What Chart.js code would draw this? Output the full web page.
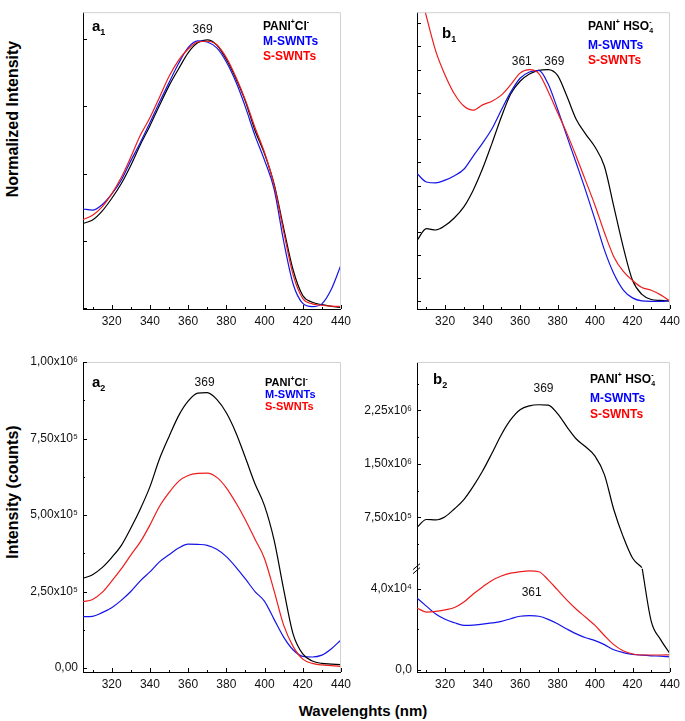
<!DOCTYPE html>
<html lang="en">
<head>
    <meta charset="UTF-8">
    <title>PANI emission spectra</title>
    <script src="https://cdn.jsdelivr.net/npm/chart.js"></script>
    <style>
        body {
            margin: 0;
            background: #fff;
            font-family: Arial, "Liberation Sans", sans-serif;
        }
        #fig {
            position: relative;
            width: 685px;
            height: 721px;
            overflow: hidden;
        }
        #fig canvas {
            position: absolute;
        }
        .title {
            position: absolute;
            width: 220px;
            height: 20px;
            line-height: 20px;
            text-align: center;
            font-weight: bold;
            font-size: 16px;
            color: #000;
            white-space: nowrap;
        }
        .rot {
            transform: rotate(-90deg); /* vertical axis titles */
        }
    </style>
</head>
<body>
<div id="fig">
    <div class="title rot" style="left:-97px; top:109px;">Normalized Intensity</div>
    <div class="title rot" style="left:-97px; top:482px;">Intensity (counts)</div>
    <div class="title" style="left:253px; top:701px; font-size:15px;">Wavelenghts (nm)</div>

    <canvas id="a1" width="356" height="336" style="left:0; top:0;"></canvas>
    <canvas id="b1" width="339" height="336" style="left:346px; top:0;"></canvas>
    <canvas id="a2" width="356" height="385" style="left:0; top:336px;"></canvas>
    <canvas id="b2" width="339" height="385" style="left:346px; top:336px;"></canvas>
</div>

<script>
    // wavelength grid (nm), shared by all panels
    const wavelengths = [305, 310, 315, 320, 325, 330, 335, 340, 345, 350, 355, 360, 365, 370,
                         375, 380, 385, 390, 395, 400, 405, 410, 415, 420, 425, 430, 435, 440];

    // a1 - normalized, PANI+Cl-
    const a1Pani  = [0.314, 0.327, 0.360, 0.407, 0.462, 0.530, 0.607, 0.677, 0.753, 0.826, 0.889, 0.949, 0.986, 0.997,
                     0.978, 0.925, 0.853, 0.768, 0.660, 0.573, 0.461, 0.297, 0.140, 0.046, 0.021, 0.012, 0.006, 0.002];
    const a1Metal = [0.368, 0.364, 0.384, 0.423, 0.475, 0.547, 0.615, 0.689, 0.765, 0.838, 0.909, 0.968, 0.993, 0.989,
                     0.967, 0.915, 0.841, 0.747, 0.641, 0.549, 0.442, 0.248, 0.088, 0.017, 0.005, 0.015, 0.070, 0.160];
    const a1Semi  = [0.329, 0.345, 0.376, 0.424, 0.485, 0.561, 0.642, 0.707, 0.783, 0.861, 0.921, 0.963, 0.989, 0.992,
                     0.979, 0.931, 0.859, 0.773, 0.671, 0.578, 0.457, 0.284, 0.122, 0.035, 0.015, 0.010, 0.007, 0.005];

    // b1 - normalized, PANI+HSO4-
    const b1Pani  = [0.263, 0.314, 0.308, 0.327, 0.361, 0.408, 0.480, 0.573, 0.682, 0.796, 0.895, 0.950, 0.981, 0.997,
                     1.000, 0.975, 0.885, 0.785, 0.722, 0.666, 0.583, 0.410, 0.236, 0.091, 0.030, 0.008, 0.004, 0.001];
    const b1Metal = [0.552, 0.515, 0.511, 0.523, 0.542, 0.570, 0.627, 0.683, 0.745, 0.826, 0.903, 0.963, 0.990, 0.997,
                     0.938, 0.830, 0.712, 0.596, 0.478, 0.353, 0.222, 0.120, 0.050, 0.015, 0.002, 0.000, 0.000, 0.004];
    const b1Semi  = [1.400, 1.230, 1.080, 0.976, 0.895, 0.843, 0.825, 0.848, 0.864, 0.890, 0.935, 0.985, 1.000, 0.983,
                     0.906, 0.815, 0.725, 0.625, 0.520, 0.414, 0.297, 0.193, 0.130, 0.090, 0.060, 0.048, 0.028, 0.001];

    // a2 - counts, PANI+Cl-
    const a2Pani  = [293000, 305000, 328000, 361000, 400000, 457000, 520000, 592000, 683000, 756000, 824000, 872000, 898000, 900000,
                     878000, 834000, 769000, 687000, 602000, 530000, 418000, 257000, 110000, 46000, 23000, 15000, 13000, 11000];
    const a2Metal = [168000, 169000, 181000, 197000, 221000, 250000, 285000, 314000, 347000, 370000, 392000, 405000, 404000, 401000,
                     388000, 364000, 330000, 291000, 250000, 218000, 159000, 101000, 59000, 38000, 36000, 42000, 63000, 92000];
    const a2Semi  = [217000, 224000, 247000, 284000, 324000, 369000, 412000, 467000, 528000, 573000, 610000, 629000, 636000, 637000,
                     623000, 589000, 540000, 484000, 421000, 357000, 252000, 140000, 70000, 29000, 15000, 10000, 8000, 5000];

    // b2 - counts, PANI+HSO4- (black curve is read on the upper, broken part of the axis)
    const b2PaniHigh = [610000, 720000, 715000, 760000, 870000, 1000000, 1185000, 1400000, 1650000, 1910000, 2120000, 2260000, 2315000, 2330000,
                        2325000, 2206000, 2020000, 1850000, 1740000, 1610000, 1350000, 860000, 480000, 180000, 45000, null, null, null];
    const b2PaniLow  = [null, null, null, null, null, null, null, null, null, null, null, null, null, null,
                        null, null, null, null, null, null, null, null, null, null, 51000, 24000, 15000, 8000];
    const b2Metal = [35500, 31500, 27600, 25000, 23300, 22000, 22100, 22600, 23200, 24000, 25300, 26500, 26800, 26500,
                     25000, 22800, 20200, 17800, 15900, 14500, 12500, 10000, 8600, 7700, 7300, 7000, 6800, 6500];
    const b2Semi  = [30600, 28600, 28900, 29700, 30800, 33500, 37500, 41000, 44200, 46400, 47800, 48500, 48900, 48500,
                     44500, 39500, 34500, 30000, 26000, 22000, 17000, 12500, 9500, 7900, 7400, 7400, 7400, 7500];

    const FONT = 'Arial, "Liberation Sans", sans-serif';
    const BLACK = '#000000', BLUE = '#1414e8', RED = '#ee1c1c';

    Chart.defaults.font.family = FONT;
    Chart.defaults.color = '#111';

    const SUP = { '4': '\u2074', '5': '\u2075', '6': '\u2076' };

    // 250000 -> "2,50x10⁵"
    function sci(v, digits) {
        const exp = Math.floor(Math.log10(v) + 1e-9);
        const mant = (v / Math.pow(10, exp)).toFixed(digits).replace('.', ',');
        return mant + 'x10' + SUP[String(exp)];
    }

    // ticks on every multiple of step inside the scale range
    // (stepSize with fixed min/max makes Chart.js respace large-valued ticks)
    function stepTicks(step) {
        return s => {
            const out = [];
            for (let k = Math.ceil(s.min / step - 1e-9); k * step <= s.max + 1e-9; k++) {
                out.push({ value: +(k * step).toFixed(6) });
            }
            s.ticks = out;
        };
    }

    function series(data, color, axis) {
        return {
            data: data,
            borderColor: color,
            borderWidth: 1.2,
            pointRadius: 0,
            fill: false,
            cubicInterpolationMode: 'monotone',
            yAxisID: axis || 'y'
        };
    }

    function xAxis() {
        return {
            type: 'linear', min: 305, max: 440,
            border: { color: '#000' },
            grid: { display: false, drawTicks: false },
            ticks: {
                autoSkip: false, maxRotation: 0, padding: 5,
                font: { size: 12 },
                callback: v => (v % 20 === 0 ? String(v) : '')
            },
            afterBuildTicks: stepTicks(10),
            afterFit: s => { s.height = 27; }
        };
    }

    function yAxis(width, min, max, step, label, extra) {
        return Object.assign({
            type: 'linear', position: 'left', min: min, max: max,
            border: { color: '#000' },
            grid: { display: false, drawTicks: false },
            ticks: {
                autoSkip: false, padding: 5,
                font: { size: 12 },
                callback: label
            },
            afterBuildTicks: stepTicks(step),
            afterFit: s => { s.width = width; }
        }, extra || {});
    }

    // bold text with super/subscripts: '^x' raised, '_x' lowered, '^' right after '_' is stacked
    function rich(ctx, x, y, parts, size, color) {
        ctx.fillStyle = color;
        ctx.textAlign = 'left';
        ctx.textBaseline = 'middle';
        let cx = x, subStart = null;
        parts.forEach(p => {
            const kind = p[0] === '^' ? 1 : (p[0] === '_' ? -1 : 0);
            const txt = kind ? p.slice(1) : p;
            const fs = kind ? Math.round(size * 0.62) : size;
            ctx.font = 'bold ' + fs + 'px ' + FONT;
            const w = ctx.measureText(txt).width;
            if (kind === 1 && subStart !== null) {
                ctx.fillText(txt, subStart, y - size * 0.38);
                subStart = null;
                return;
            }
            ctx.fillText(txt, cx, y - kind * size * 0.38);
            subStart = kind === -1 ? cx : null;
            cx += w;
        });
    }

    // short tick marks pointing into the plot
    function inTicks(chart, id, major) {
        const s = chart.scales[id], ctx = chart.ctx;
        ctx.beginPath();
        s.ticks.forEach(t => {
            const r = t.value / major;
            const len = Math.abs(r - Math.round(r)) < 1e-6 ? 4 : 2;
            const p = Math.round(s.getPixelForValue(t.value)) + 0.5;
            if (s.isHorizontal()) {
                ctx.moveTo(p, s.top);
                ctx.lineTo(p, s.top - len);
            } else {
                ctx.moveTo(s.right, p);
                ctx.lineTo(s.right + len, p);
            }
        });
        ctx.stroke();
    }

    function deco(cfg) {
        return {
            id: 'deco',
            afterDraw(chart) {
                const ctx = chart.ctx, a = chart.chartArea;
                ctx.save();
                ctx.lineWidth = 1;

                // light frame on top and right
                ctx.strokeStyle = '#d2d2d2';
                ctx.beginPath();
                ctx.moveTo(a.left, a.top + 0.5);
                ctx.lineTo(a.right - 0.5, a.top + 0.5);
                ctx.lineTo(a.right - 0.5, a.bottom);
                ctx.stroke();

                ctx.strokeStyle = '#000';
                cfg.ticks.forEach(t => inTicks(chart, t[0], t[1]));

                // axis break marks
                if (cfg.breakAxis) {
                    const yb = chart.scales[cfg.breakAxis].bottom;
                    ctx.beginPath();
                    ctx.moveTo(a.left - 4, yb + 1);
                    ctx.lineTo(a.left + 3, yb - 5);
                    ctx.moveTo(a.left - 4, yb + 5);
                    ctx.lineTo(a.left + 3, yb - 1);
                    ctx.stroke();
                }

                // panel letter
                rich(ctx, a.left + cfg.letter[1], a.top + cfg.letter[2], cfg.letter[0], 15, '#000');

                // legend text
                cfg.legend.forEach(l => rich(ctx, a.left + cfg.legendX, a.top + l.y, l.parts, cfg.legendSize, l.color));

                // peak positions
                ctx.font = '12px ' + FONT;
                ctx.fillStyle = '#111';
                ctx.textAlign = 'center';
                ctx.textBaseline = 'middle';
                cfg.peaks.forEach(pk => {
                    const px = chart.scales.x.getPixelForValue(pk.x);
                    const py = chart.scales[pk.axis || 'y'].getPixelForValue(pk.y);
                    ctx.fillText(pk.text, px, py);
                });
                ctx.restore();
            }
        };
    }

    function baseOptions(padding, scales) {
        return {
            responsive: false,
            maintainAspectRatio: false,
            animation: false,
            events: [],
            layout: { padding: padding },
            plugins: { legend: { display: false }, tooltip: { enabled: false } },
            scales: scales
        };
    }

    const clLegend = [
        { parts: ['PANI', '^+', 'Cl', '^-'], color: '#000' },
        { parts: ['M-SWNTs'], color: '#0000ff' },
        { parts: ['S-SWNTs'], color: '#ff0000' }
    ];
    const hsoLegend = [
        { parts: ['PANI', '^+', ' HSO', '_4', '^-'], color: '#000' },
        { parts: ['M-SWNTs'], color: '#0000ff' },
        { parts: ['S-SWNTs'], color: '#ff0000' }
    ];
    function placeLegend(items, ys) {
        return items.map((it, i) => Object.assign({ y: ys[i] }, it));
    }

    // a1
    new Chart(document.getElementById('a1'), {
        type: 'line',
        data: {
            labels: wavelengths,
            datasets: [series(a1Semi, RED), series(a1Metal, BLUE), series(a1Pani, BLACK)]
        },
        options: baseOptions({ top: 0, right: 14, bottom: 0, left: 0 }, {
            x: xAxis(),
            y: yAxis(83, -0.004, 1.1, 0.25, () => '')
        }),
        plugins: [deco({
            ticks: [['x', 20], ['y', 0.25]],
            letter: [['a', '_1'], 9, 15],
            legendX: 180, legendSize: 12,
            legend: placeLegend(clLegend, [14, 29, 44]),
            peaks: [{ text: '369', x: 367.6, y: 1.036 }]
        })]
    });

    // b1
    new Chart(document.getElementById('b1'), {
        type: 'line',
        data: {
            labels: wavelengths,
            datasets: [series(b1Semi, RED), series(b1Metal, BLUE), series(b1Pani, BLACK)]
        },
        options: baseOptions({ top: 0, right: 12, bottom: 0, left: 0 }, {
            x: xAxis(),
            y: yAxis(71, -0.033, 1.248, 0.1, () => '')
        }),
        plugins: [deco({
            ticks: [['x', 20], ['y', 0.1]],
            letter: [['b', '_1'], 25, 22],
            legendX: 171, legendSize: 12,
            legend: placeLegend(hsoLegend, [14, 33, 48]),
            peaks: [{ text: '361', x: 360.9, y: 1.033 }, { text: '369', x: 378.3, y: 1.033 }]
        })]
    });

    // a2
    new Chart(document.getElementById('a2'), {
        type: 'line',
        data: {
            labels: wavelengths,
            datasets: [series(a2Pani, BLACK), series(a2Semi, RED), series(a2Metal, BLUE)]
        },
        options: baseOptions({ top: 26, right: 14, bottom: 22, left: 0 }, {
            x: xAxis(),
            y: yAxis(83, -13000, 1000000, 125000,
                v => (v === 0 ? '0,00' : (v % 250000 === 0 ? sci(v, 2) : '')))
        }),
        plugins: [deco({
            ticks: [['x', 20], ['y', 250000]],
            letter: [['a', '_2'], 9, 21],
            legendX: 182, legendSize: 11,
            legend: placeLegend(clLegend, [21, 33, 45]),
            peaks: [{ text: '369', x: 368.6, y: 931000 }]
        })]
    });

    // b2 - broken y axis made of two stacked scales
    new Chart(document.getElementById('b2'), {
        type: 'line',
        data: {
            labels: wavelengths,
            datasets: [
                series(b2PaniHigh, BLACK, 'yHi'),
                series(b2PaniLow, BLACK, 'yLo'),
                series(b2Semi, RED, 'yLo'),
                series(b2Metal, BLUE, 'yLo')
            ]
        },
        options: baseOptions({ top: 26, right: 12, bottom: 22, left: 0 }, {
            x: xAxis(),
            yLo: yAxis(71, -1000, 50000, 20000,
                v => (v === 0 ? '0,0' : (v % 40000 === 0 ? sci(v, 1) : '')),
                { stack: 'b2', stackWeight: 1 }),
            yHi: yAxis(71, 30000, 2930000, 375000,
                v => (Math.round(v) % 750000 === 0 ? sci(v, 2) : ''),
                { stack: 'b2', stackWeight: 2 })
        }),
        plugins: [deco({
            ticks: [['x', 20], ['yLo', 40000], ['yHi', 750000]],
            breakAxis: 'yHi',
            letter: [['b', '_2'], 16, 18],
            legendX: 173, legendSize: 12,
            legend: placeLegend(hsoLegend, [18, 37, 53]),
            peaks: [
                { text: '369', x: 372.5, y: 2560000, axis: 'yHi' },
                { text: '361', x: 366.2, y: 38000, axis: 'yLo' }
            ]
        })]
    });
</script>
</body>
</html>
